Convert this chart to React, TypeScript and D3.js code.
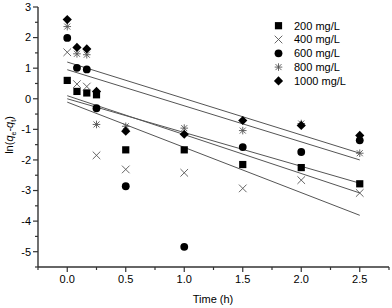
import React from "react";
import { scaleLinear, range, line } from "d3";

// sampling times (h)
const times = [0, 0.083, 0.167, 0.25, 0.5, 1, 1.5, 2, 2.5];

// ln(qe - qt) per initial concentration
const c200 = [0.6, 0.24, 0.19, 0.13, -1.67, -1.67, -2.15, -2.25, -2.78];
const c400 = [1.52, 0.48, 0.4, -1.85, -2.31, -2.42, -2.93, -2.66, -3.08];
const c600 = [1.99, 1.01, 0.96, -0.31, -2.86, -4.84, -1.58, -1.74, -1.36];
const c800 = [2.36, 1.47, 1.44, -0.84, -0.9, -0.96, -1.04, -0.81, -1.78];
const c1000 = [2.59, 1.68, 1.63, 0.24, -1.06, -1.16, -0.71, -0.87, -1.2];

const seriesNames = ["200 mg/L", "400 mg/L", "600 mg/L", "800 mg/L", "1000 mg/L"];
const seriesValues = [c200, c400, c600, c800, c1000];
const markerKinds = ["square", "cross", "circle", "star", "diamond"];

// linear fits, value at t = 0 and at t = 2.5
const fitStart = [0.0, 0.1, -0.11, 0.95, 1.2];
const fitEnd = [-2.76, -3.08, -3.81, -2.0, -1.78];
const fitTimes = [0, 2.5];

const xMajor = [0, 0.5, 1, 1.5, 2, 2.5];
const yMajor = [-5, -4, -3, -2, -1, 0, 1, 2, 3];

const FONT = "Arial, 'Liberation Sans', sans-serif";

function Marker({ kind, x, y }: { kind: string; x: number; y: number }) {
  const s = 3.6;
  if (kind === "square")
    return <rect x={x - s} y={y - s} width={2 * s} height={2 * s} fill="#000" />;
  if (kind === "circle") return <circle cx={x} cy={y} r={3.9} fill="#000" />;
  if (kind === "diamond")
    return (
      <path
        d={`M${x},${y - 4.6}L${x + 4.6},${y}L${x},${y + 4.6}L${x - 4.6},${y}Z`}
        fill="#000"
      />
    );
  if (kind === "cross")
    return (
      <path
        d={`M${x - 3.8},${y - 3.8}L${x + 3.8},${y + 3.8}M${x - 3.8},${y + 3.8}L${x + 3.8},${y - 3.8}`}
        stroke="#555"
        strokeWidth={0.9}
        fill="none"
      />
    );
  // star
  return (
    <path
      d={`M${x - 3},${y - 3}L${x + 3},${y + 3}M${x - 3},${y + 3}L${x + 3},${y - 3}M${x},${y - 3.8}L${x},${y + 3.8}M${x - 3.8},${y}L${x + 3.8},${y}`}
      stroke="#555"
      strokeWidth={0.9}
      fill="none"
    />
  );
}

export default function App() {
  const width = 392;
  const height = 308;
  const x = scaleLinear().domain([-0.25, 2.75]).range([38, 389]);
  const y = scaleLinear().domain([-5.5, 3]).range([267, 7]);

  // minor ticks between the labelled ones
  const xMinor = range(-0.25, 2.76, 0.25).filter((v) => !xMajor.some((m) => Math.abs(m - v) < 1e-6));
  const yMinor = range(-5.5, 3.01, 0.5).filter((v) => !yMajor.some((m) => Math.abs(m - v) < 1e-6));

  return (
    <svg
      width={width}
      height={height}
      style={{ position: "absolute", left: 0, top: 0, background: "#fff" }}
      fontFamily={FONT}
    >
      {/* fitted lines */}
      {fitStart.map((s, i) => {
        const vals = [s, fitEnd[i]];
        const d = line<number>()
          .x((t) => x(t))
          .y((_, k) => y(vals[k]))(fitTimes);
        return <path key={i} d={d || ""} stroke="#555" strokeWidth={1} fill="none" />;
      })}

      {/* points */}
      {seriesValues.map((vals, si) =>
        vals.map((v, i) => (
          <Marker key={`${si}-${i}`} kind={markerKinds[si]} x={x(times[i])} y={y(v)} />
        ))
      )}

      {/* axes */}
      <line x1={38} x2={389} y1={267} y2={267} stroke="#333" strokeWidth={1.4} />
      <line x1={38} x2={38} y1={y(3)} y2={267} stroke="#333" strokeWidth={1.4} />
      {xMajor.map((t) => (
        <g key={`xm${t}`}>
          <line x1={x(t)} x2={x(t)} y1={267} y2={272} stroke="#333" strokeWidth={1.2} />
          <text x={x(t)} y={283} textAnchor="middle" fontSize={11}>
            {t.toFixed(1)}
          </text>
        </g>
      ))}
      {xMinor.map((t) => (
        <line key={`xn${t}`} x1={x(t)} x2={x(t)} y1={267} y2={270} stroke="#333" strokeWidth={1.2} />
      ))}
      {yMajor.map((v) => (
        <g key={`ym${v}`}>
          <line x1={33} x2={38} y1={y(v)} y2={y(v)} stroke="#333" strokeWidth={1.2} />
          <text x={31} y={y(v)} dy="0.35em" textAnchor="end" fontSize={11}>
            {v}
          </text>
        </g>
      ))}
      {yMinor.map((v) => (
        <line key={`yn${v}`} x1={35} x2={38} y1={y(v)} y2={y(v)} stroke="#333" strokeWidth={1.2} />
      ))}

      {/* axis titles */}
      <text x={213} y={303} textAnchor="middle" fontSize={11}>
        Time (h)
      </text>
      <text transform="translate(13,135) rotate(-90)" textAnchor="middle" fontSize={11}>
        ln(<tspan fontStyle="italic">q</tspan>
        <tspan fontSize={7} dy={2.5}>e</tspan>
        <tspan dy={-2.5}>-</tspan>
        <tspan fontStyle="italic">q</tspan>
        <tspan fontSize={7} dy={2.5}>t</tspan>
        <tspan dy={-2.5}>)</tspan>
      </text>

      {/* legend */}
      {seriesNames.map((name, i) => {
        const ly = 25.7 + i * 13.8;
        return (
          <g key={name}>
            <Marker kind={markerKinds[i]} x={278.5} y={ly} />
            <text x={294} y={ly} dy="0.35em" fontSize={11}>
              {name}
            </text>
          </g>
        );
      })}
    </svg>
  );
}
